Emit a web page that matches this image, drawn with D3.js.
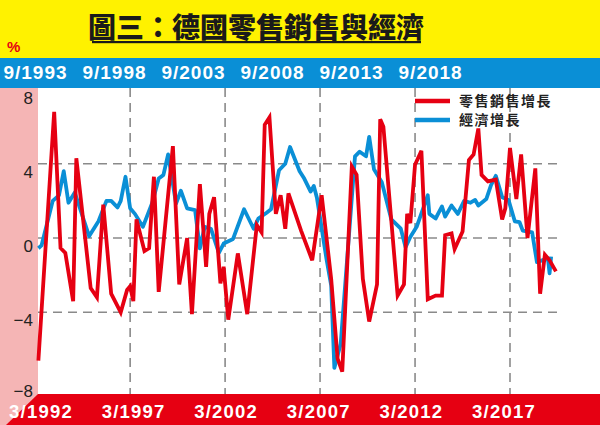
<!DOCTYPE html>
<html>
<head>
<meta charset="utf-8">
<script src="https://cdn.jsdelivr.net/npm/d3@7"></script>
<style>
  body { margin: 0; background: #fff; }
  svg { display: block; }
</style>
</head>
<body>
<div id="chart"></div>
<script>
// retail sales growth (red)
var redDates = ["1992-05","1993-03","1993-07","1993-10","1994-03","1994-05","1995-02","1995-06","1995-10","1996-03",
	"1996-09","1997-01","1997-03","1997-05","1997-07","1997-12","1998-03","1998-06","1998-09","1999-06",
	"1999-10","2000-03","2000-06","2000-11","2001-03","2001-05","2001-08","2001-12","2002-02","2002-05",
	"2002-11","2003-05","2003-11","2004-02","2004-04","2004-07","2004-11","2005-02","2005-05","2005-07",
	"2006-03","2006-10","2007-04","2007-10","2008-02","2008-05","2008-11","2009-02","2009-06","2009-10",
	"2010-03","2010-05","2010-07","2011-04","2011-08","2011-10","2011-12","2012-03","2012-07","2012-11",
	"2013-04","2013-08","2013-10","2014-02","2014-04","2014-09","2015-01","2015-04","2015-07","2015-09",
	"2016-01","2016-06","2016-10","2016-12","2017-03","2017-07","2017-10","2018-02","2018-07","2018-10",
	"2019-01","2019-04","2019-08"];
var redValues = [-6.6,6.8,-0.54,-0.8,-3.4,4.3,-2.7,-3.2,1.8,-3.0,
	-4.0,-2.8,-2.6,-3.4,1.0,-0.7,-0.55,3.3,-2.9,4.95,
	-2.5,0.0,-4.1,2.9,-1.55,1.3,2.2,-2.45,-1.55,-4.4,
	-0.83,-4.1,0.7,0.3,6.1,6.5,1.3,2.3,0.5,2.4,
	0.4,-1.2,2.3,-2.2,-6.5,-7.2,3.85,3.4,-2.2,-4.5,
	-2.5,6.4,6.0,-3.1,-2.5,1.3,0.8,3.95,4.7,-3.3,
	-3.1,-3.1,0.15,0.25,-0.6,0.35,4.2,4.5,5.9,3.4,
	3.05,3.15,1.0,1.6,4.85,2.1,4.5,0.0,3.75,-3.0,
	-0.9,-1.2,-1.8];

// economic growth (blue)
var blueDates = ["1992-05","1992-07","1993-02","1993-06","1993-09","1993-12","1994-04","1995-01","1995-07","1995-12",
	"1996-03","1996-07","1996-09","1996-12","1997-03","1997-06","1997-11","1998-05","1998-09","1998-12",
	"1999-03","1999-08","1999-11","2000-03","2000-08","2000-11","2001-02","2001-06","2001-11","2002-02",
	"2002-08","2003-03","2003-09","2003-12","2004-05","2004-08","2005-01","2005-05","2005-08","2006-02",
	"2006-05","2006-09","2006-11","2007-01","2007-07","2007-10","2007-12","2008-04","2009-01","2009-04",
	"2009-08","2009-10","2010-01","2010-06","2010-12","2011-06","2011-09","2011-12","2012-04","2012-11",
	"2012-12","2013-04","2013-08","2013-10","2014-02","2014-06","2014-10","2015-02","2015-05","2015-07",
	"2015-12","2016-03","2016-06","2016-10","2017-02","2017-06","2017-09","2017-11","2018-05","2018-08",
	"2019-03","2019-04","2019-05"];
var blueValues = [-0.55,-0.4,2.0,2.3,3.6,1.9,2.45,0.1,0.9,2.0,
	2.0,1.65,2.0,3.3,1.6,1.3,0.6,1.9,3.2,3.4,
	4.5,1.85,2.55,1.6,1.5,-0.56,0.6,0.5,-0.8,-0.3,
	-0.05,1.55,0.5,1.05,1.35,1.55,3.65,4.0,4.9,3.6,
	3.2,2.5,2.8,2.15,-1.1,-2.55,-7.0,-5.7,4.4,4.65,
	4.4,5.45,3.7,3.0,1.0,0.5,-0.5,0.05,0.6,2.3,
	1.3,1.05,1.7,1.15,1.75,1.3,2.0,1.9,2.05,1.75,
	2.1,2.85,3.35,2.2,2.05,0.9,0.85,0.4,0.3,-1.3,
	-1.1,-1.9,-1.0];

var yTicks = [8, 4, 0, -4, -8];
var gridValues = [4, 0, -4];
var bottomTickLabels = ["3/1992","3/1997","3/2002","3/2007","3/2012","3/2017"];
var topTickLabels = ["9/1993","9/1998","9/2003","9/2008","9/2013","9/2018"];
var legendLabels = ["零售銷售增長", "經濟增長"];

var W = 600, H = 425;
var RED = "#e60012", BLUE = "#0a8fd6", YELLOW = "#fff200", PINK = "#f5b5b5";
var parseMonth = d3.timeParse("%Y-%m");
var parseLabel = d3.timeParse("%m/%Y");

var svg = d3.select("#chart").append("svg")
	.attr("width", W)
	.attr("height", H)
	.style("font-family", "'Liberation Sans', Arial, sans-serif");

var x = d3.scaleTime()
	.domain([parseMonth("1992-03"), parseMonth("2017-03")])
	.range([35.2, 510]);
// label positions of the printed axes (not quite on the gridlines in the original)
var xLabel = d3.scaleTime()
	.domain([parseMonth("1992-03"), parseMonth("2017-03")])
	.range([41, 504]);
var xTop = d3.scaleTime()
	.domain([parseMonth("1993-09"), parseMonth("2018-09")])
	.range([35.5, 430.6]);
var y = d3.scaleLinear().domain([-8, 8]).range([386.5, 89.5]);

// background bands
svg.append("rect").attr("x", 0).attr("y", 0).attr("width", W).attr("height", 58).attr("fill", YELLOW);
svg.append("rect").attr("x", 0).attr("y", 58).attr("width", W).attr("height", 30).attr("fill", BLUE);
svg.append("rect").attr("x", 0).attr("y", 88).attr("width", 38).attr("height", H - 88).attr("fill", PINK);
svg.append("path")
	.attr("d", "M38,394 L" + W + ",394 L" + W + "," + H + " L6," + H + " Z")
	.attr("fill", RED);

// title
svg.append("text")
	.attr("x", 256).attr("y", 38)
	.attr("text-anchor", "middle")
	.attr("font-family", "'Noto Sans CJK TC', sans-serif")
	.attr("font-weight", 900)
	.attr("font-size", 28)
	.attr("fill", "#1a1a1a")
	.text("圖三：德國零售銷售與經濟");
svg.append("rect").attr("x", 92).attr("y", 41).attr("width", 329).attr("height", 2.2).attr("fill", "#1a1a1a");

svg.append("text")
	.attr("x", 7).attr("y", 52)
	.attr("font-size", 15).attr("font-weight", "bold")
	.attr("fill", RED)
	.text("%");

// top axis labels
svg.selectAll(".toplab").data(topTickLabels).enter().append("text")
	.attr("class", "toplab")
	.attr("x", function (d) { return xTop(parseLabel(d)); })
	.attr("y", 79)
	.attr("text-anchor", "middle")
	.attr("font-size", 19).attr("font-weight", "bold")
	.attr("letter-spacing", 1)
	.attr("fill", "#fff")
	.text(function (d) { return d; });

// bottom axis labels
svg.selectAll(".botlab").data(bottomTickLabels).enter().append("text")
	.attr("class", "botlab")
	.attr("x", function (d) { return xLabel(parseLabel(d)); })
	.attr("y", 418)
	.attr("text-anchor", "middle")
	.attr("font-size", 18.5).attr("font-weight", "bold")
	.attr("letter-spacing", 1.2)
	.attr("fill", "#fff")
	.text(function (d) { return d; });

// gridlines
svg.selectAll(".hgrid").data(gridValues).enter().append("line")
	.attr("x1", 38).attr("x2", 563)
	.attr("y1", function (d) { return y(d); })
	.attr("y2", function (d) { return y(d); })
	.attr("stroke", "#8a8a8a").attr("stroke-width", 1.6)
	.attr("stroke-dasharray", "9,6");
svg.selectAll(".vgrid").data(bottomTickLabels.slice(1)).enter().append("line")
	.attr("x1", function (d) { return x(parseLabel(d)); })
	.attr("x2", function (d) { return x(parseLabel(d)); })
	.attr("y1", 88).attr("y2", 394)
	.attr("stroke", "#8a8a8a").attr("stroke-width", 1.6)
	.attr("stroke-dasharray", "9,6");

// y tick labels
svg.selectAll(".ylab").data(yTicks).enter().append("text")
	.attr("x", 33)
	.attr("y", function (d) { return d == -8 ? y(d) + 10 : y(d) + 14; })
	.attr("text-anchor", "end")
	.attr("font-size", 17)
	.attr("fill", "#222")
	.text(function (d) { return d < 0 ? "\u2212" + Math.abs(d) : d; });

// series
var line = d3.line()
	.x(function (d) { return x(d.date); })
	.y(function (d) { return y(d.value); });

var blueData = blueDates.map(function (d, i) { return { date: parseMonth(d), value: blueValues[i] }; });
var redData = redDates.map(function (d, i) { return { date: parseMonth(d), value: redValues[i] }; });

svg.append("path").datum(blueData)
	.attr("d", line)
	.attr("fill", "none").attr("stroke", BLUE)
	.attr("stroke-width", 3.8).attr("stroke-linejoin", "round");
svg.append("path").datum(redData)
	.attr("d", line)
	.attr("fill", "none").attr("stroke", RED)
	.attr("stroke-width", 3.8).attr("stroke-linejoin", "miter");

// legend
var legend = svg.append("g");
legend.selectAll("line").data(legendLabels).enter().append("line")
	.attr("x1", 415).attr("x2", 450)
	.attr("y1", function (d, i) { return 101 + i * 19; })
	.attr("y2", function (d, i) { return 101 + i * 19; })
	.attr("stroke", function (d, i) { return i == 0 ? RED : BLUE; })
	.attr("stroke-width", 4.5);
legend.selectAll("text").data(legendLabels).enter().append("text")
	.attr("x", 459)
	.attr("y", function (d, i) { return 106 + i * 19; })
	.attr("font-family", "'Noto Sans CJK TC', sans-serif")
	.attr("font-weight", "bold")
	.attr("font-size", 14)
	.attr("letter-spacing", 1.5)
	.attr("fill", "#222")
	.text(function (d) { return d; });
</script>
</body>
</html>
